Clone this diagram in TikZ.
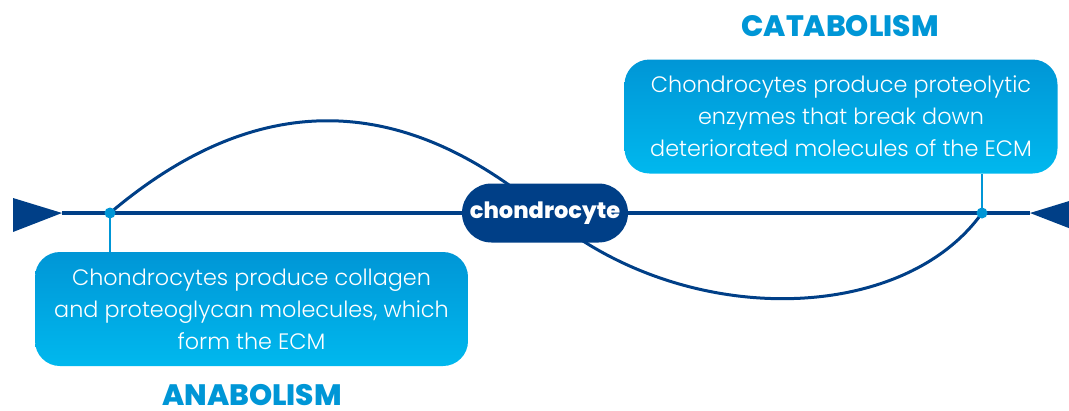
\documentclass[tikz,border=0pt]{standalone}
\usepackage{fontspec}
\IfFontExistsTF{Poppins Light}{\setmainfont{Poppins}[UprightFont=* Light,BoldFont=* Bold]}{\setmainfont{Poppins}}
\IfFontExistsTF{Poppins ExtraBold}{\newfontfamily\boldfam{Poppins ExtraBold}}{\newfontfamily\boldfam{Poppins Bold}}
\usetikzlibrary{calc}
\definecolor{dkblue}{RGB}{0,63,135}
\definecolor{ltblue}{RGB}{0,150,214}
\definecolor{boxtop}{RGB}{0,150,214}
\definecolor{boxbot}{RGB}{0,184,238}
\tikzset{
  infobox/.style={rounded corners=25pt, top color=boxtop, bottom color=boxbot, draw=none,
    minimum width=433pt, minimum height=114pt, text=white, align=center, inner sep=0pt,
    font=\fontsize{22.3}{32}\selectfont},
  phase/.style={text=ltblue, font=\boldfam\fontsize{29.5}{32}\selectfont, inner sep=0pt},
  cellnode/.style={rounded corners=29.5pt, fill=dkblue, text=white, minimum width=166pt,
    minimum height=59pt, inner sep=0pt, font=\boldfam\fontsize{22.5}{26}\selectfont},
  mainline/.style={draw=dkblue, line width=4pt},
  arcline/.style={draw=dkblue, line width=3pt},
  tickline/.style={draw=ltblue, line width=2pt},
  dot/.style={circle, fill=ltblue, minimum size=11pt, inner sep=0pt},
}
\begin{document}
\begin{tikzpicture}[x=1pt,y=-1pt]
\useasboundingbox (0,0) rectangle (1069,410);
\clip (0,0) rectangle (1069,410);
% coordinates
\coordinate (ltip) at (62,213);
\coordinate (rtip) at (1030,213);
\coordinate (ldotc) at (110,213);
\coordinate (rdotc) at (982,213);
\coordinate (ctr) at (545,213);
% arcs
\draw[arcline] (ldotc) .. controls (255,90) and (400,90) .. (ctr);
\draw[arcline] (ctr) .. controls (682,329.5) and (902,325) .. (rdotc);
% main line and arrowheads
\draw[mainline] (ltip) -- (rtip);
\fill[dkblue] (13,198) -- (ltip) -- (13,232) -- cycle;
\fill[dkblue] (1079,198) -- (rtip) -- (1079,232) -- cycle;
% boxes
\node[infobox] (lbox) at (251.5,309) {Chondrocytes produce collagen\\and proteoglycan molecules, which\\form the ECM};
\node[infobox] (rbox) at (841,116.5) {Chondrocytes produce proteolytic\\enzymes that break down\\deteriorated molecules of the ECM};
% ticks
\draw[tickline] (ldotc) -- (ldotc |- lbox.north);
\draw[tickline] (rdotc) -- (rdotc |- rbox.south);
\node[dot] (ldot) at (ldotc) {};
\node[dot] (rdot) at (rdotc) {};
% centre node
\node[cellnode] (chon) at (ctr) {chondrocyte};
% labels
\node[phase] (cata) at (840,26) {CATABOLISM};
\node[phase, anchor=base] (ana) at (252,405) {ANABOLISM};
\end{tikzpicture}
\end{document}
